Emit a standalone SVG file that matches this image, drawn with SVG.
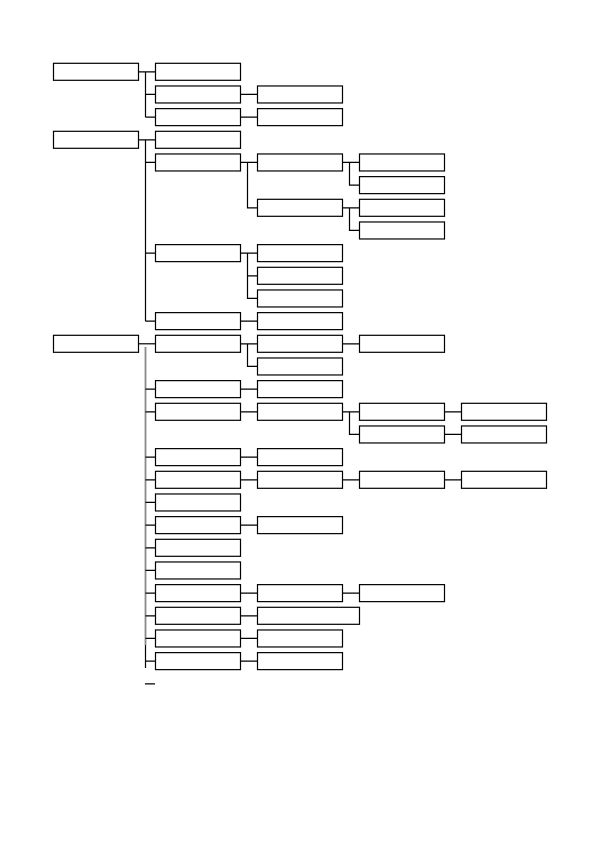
<svg xmlns="http://www.w3.org/2000/svg" width="595" height="843" viewBox="0 0 595 843">
<style>
.b{fill:#fff;stroke:#000;stroke-width:1.2}
.c{fill:none;stroke:#000;stroke-width:1.2}
.g{fill:none;stroke:#8a8a8a;stroke-width:1.8}
</style>
<rect width="595" height="843" fill="#fff"/>
<g id="connectors">
<path class="c" d="M138.5,71.8H155.5M145.5,71.8V117.13M145.5,94.47H155.5M145.5,117.13H155.5M240.5,94.47H257.5M240.5,117.13H257.5"/>
<path class="c" d="M138.5,139.8H155.5M145.5,139.8V321.13M145.5,162.47H155.5M145.5,253.13H155.5M145.5,321.13H155.5M240.5,162.47H257.5M247.5,162.47V207.8H257.5M342.5,162.47H359.5M349.5,162.47V185.13H359.5M342.5,207.8H359.5M349.5,207.8V230.47H359.5M240.5,253.13H257.5M247.5,253.13V298.47H257.5M247.5,275.8H257.5M240.5,321.13H257.5"/>
<path class="c" d="M138.5,343.8H155.5"/>
<path class="g" d="M145.5,347V645"/>
<path class="c" d="M145.5,645V668M145.5,389.13H155.5M145.5,411.8H155.5M145.5,457.13H155.5M145.5,479.8H155.5M145.5,502.47H155.5M145.5,525.13H155.5M145.5,547.8H155.5M145.5,570.47H155.5M145.5,593.13H155.5M145.5,615.8H155.5M145.5,638.47H155.5M145.5,661.13H155.5M145,683.8H155"/>
<path class="c" d="M240.5,343.8H257.5M247.5,343.8V366.47H257.5M342.5,343.8H359.5M240.5,389.13H257.5M240.5,411.8H257.5M342.5,411.8H359.5M349.5,411.8V434.47H359.5M444.5,411.8H461.5M444.5,434.47H461.5M240.5,457.13H257.5M240.5,479.8H257.5M342.5,479.8H359.5M444.5,479.8H461.5M240.5,525.13H257.5M240.5,593.13H257.5M342.5,593.13H359.5M240.5,615.8H257.5M240.5,638.47H257.5M240.5,661.13H257.5"/>
</g>
<g id="n_A"><rect class="b" x="53.5" y="63.3" width="85" height="17"/></g>
<g id="n_A1"><rect class="b" x="155.5" y="63.3" width="85" height="17"/></g>
<g id="n_A2"><rect class="b" x="155.5" y="85.97" width="85" height="17"/></g>
<g id="n_A2a"><rect class="b" x="257.5" y="85.97" width="85" height="17"/></g>
<g id="n_A3"><rect class="b" x="155.5" y="108.63" width="85" height="17"/></g>
<g id="n_A3a"><rect class="b" x="257.5" y="108.63" width="85" height="17"/></g>
<g id="n_B"><rect class="b" x="53.5" y="131.3" width="85" height="17"/></g>
<g id="n_B1"><rect class="b" x="155.5" y="131.3" width="85" height="17"/></g>
<g id="n_B2"><rect class="b" x="155.5" y="153.97" width="85" height="17"/></g>
<g id="n_B2a"><rect class="b" x="257.5" y="153.97" width="85" height="17"/></g>
<g id="n_B2a1"><rect class="b" x="359.5" y="153.97" width="85" height="17"/></g>
<g id="n_B2a2"><rect class="b" x="359.5" y="176.63" width="85" height="17"/></g>
<g id="n_B2b"><rect class="b" x="257.5" y="199.3" width="85" height="17"/></g>
<g id="n_B2b1"><rect class="b" x="359.5" y="199.3" width="85" height="17"/></g>
<g id="n_B2b2"><rect class="b" x="359.5" y="221.97" width="85" height="17"/></g>
<g id="n_B3"><rect class="b" x="155.5" y="244.63" width="85" height="17"/></g>
<g id="n_B3a"><rect class="b" x="257.5" y="244.63" width="85" height="17"/></g>
<g id="n_B3b"><rect class="b" x="257.5" y="267.3" width="85" height="17"/></g>
<g id="n_B3c"><rect class="b" x="257.5" y="289.97" width="85" height="17"/></g>
<g id="n_B4"><rect class="b" x="155.5" y="312.63" width="85" height="17"/></g>
<g id="n_B4a"><rect class="b" x="257.5" y="312.63" width="85" height="17"/></g>
<g id="n_C"><rect class="b" x="53.5" y="335.3" width="85" height="17"/></g>
<g id="n_C1"><rect class="b" x="155.5" y="335.3" width="85" height="17"/></g>
<g id="n_C1a"><rect class="b" x="257.5" y="335.3" width="85" height="17"/></g>
<g id="n_C1a1"><rect class="b" x="359.5" y="335.3" width="85" height="17"/></g>
<g id="n_C1b"><rect class="b" x="257.5" y="357.97" width="85" height="17"/></g>
<g id="n_C2"><rect class="b" x="155.5" y="380.63" width="85" height="17"/></g>
<g id="n_C2a"><rect class="b" x="257.5" y="380.63" width="85" height="17"/></g>
<g id="n_C3"><rect class="b" x="155.5" y="403.3" width="85" height="17"/></g>
<g id="n_C3a"><rect class="b" x="257.5" y="403.3" width="85" height="17"/></g>
<g id="n_C3a1"><rect class="b" x="359.5" y="403.3" width="85" height="17"/></g>
<g id="n_C3a1x"><rect class="b" x="461.5" y="403.3" width="85" height="17"/></g>
<g id="n_C3a2"><rect class="b" x="359.5" y="425.97" width="85" height="17"/></g>
<g id="n_C3a2x"><rect class="b" x="461.5" y="425.97" width="85" height="17"/></g>
<g id="n_C4"><rect class="b" x="155.5" y="448.63" width="85" height="17"/></g>
<g id="n_C4a"><rect class="b" x="257.5" y="448.63" width="85" height="17"/></g>
<g id="n_C5"><rect class="b" x="155.5" y="471.3" width="85" height="17"/></g>
<g id="n_C5a"><rect class="b" x="257.5" y="471.3" width="85" height="17"/></g>
<g id="n_C5a1"><rect class="b" x="359.5" y="471.3" width="85" height="17"/></g>
<g id="n_C5a1x"><rect class="b" x="461.5" y="471.3" width="85" height="17"/></g>
<g id="n_C6"><rect class="b" x="155.5" y="493.97" width="85" height="17"/></g>
<g id="n_C7"><rect class="b" x="155.5" y="516.63" width="85" height="17"/></g>
<g id="n_C7a"><rect class="b" x="257.5" y="516.63" width="85" height="17"/></g>
<g id="n_C8"><rect class="b" x="155.5" y="539.3" width="85" height="17"/></g>
<g id="n_C9"><rect class="b" x="155.5" y="561.97" width="85" height="17"/></g>
<g id="n_C10"><rect class="b" x="155.5" y="584.63" width="85" height="17"/></g>
<g id="n_C10a"><rect class="b" x="257.5" y="584.63" width="85" height="17"/></g>
<g id="n_C10a1"><rect class="b" x="359.5" y="584.63" width="85" height="17"/></g>
<g id="n_C11"><rect class="b" x="155.5" y="607.3" width="85" height="17"/></g>
<g id="n_C11a"><rect class="b" x="257.5" y="607.3" width="102" height="17"/></g>
<g id="n_C12"><rect class="b" x="155.5" y="629.97" width="85" height="17"/></g>
<g id="n_C12a"><rect class="b" x="257.5" y="629.97" width="85" height="17"/></g>
<g id="n_C13"><rect class="b" x="155.5" y="652.63" width="85" height="17"/></g>
<g id="n_C13a"><rect class="b" x="257.5" y="652.63" width="85" height="17"/></g>
</svg>
